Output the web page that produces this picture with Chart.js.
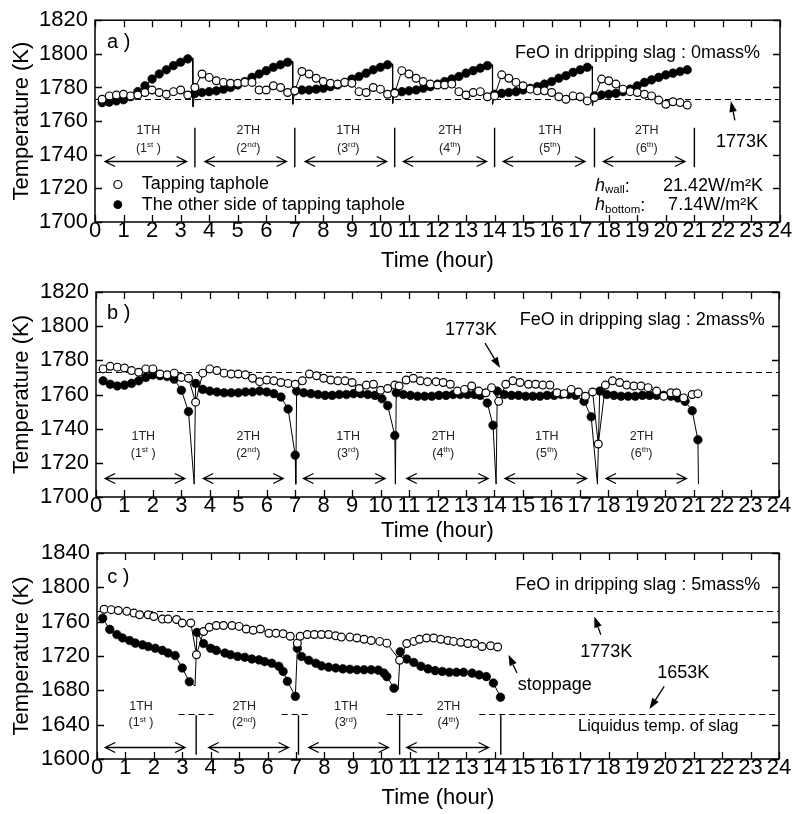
<!DOCTYPE html>
<html><head><meta charset="utf-8"><title>Temperature vs time</title>
<script src="https://cdn.jsdelivr.net/npm/chart.js@4.4.1/dist/chart.umd.min.js"></script>
<style>
html,body{margin:0;padding:0;background:#fff;}
#wrap{position:relative;width:793px;height:814px;overflow:hidden;background:#fff;}
canvas{position:absolute;left:0;}
</style></head><body>
<div id="wrap">
<canvas id="chartA" width="793" height="290" style="top:0px;width:793px;height:290px"></canvas>
<canvas id="chartB" width="793" height="280" style="top:265px;width:793px;height:280px"></canvas>
<canvas id="chartC" width="793" height="284" style="top:530px;width:793px;height:284px"></canvas>
</div>
<script>
// ---------------- DATA ----------------
// Panel a) FeO 0 mass%
const timeA = [0.25,0.5,0.75,1,1.25,1.5,1.75,2,2.25,2.5,2.75,3,3.25,
 3.5,3.75,4,4.25,4.5,4.75,5,5.25,5.5,5.75,6,6.25,6.5,6.75,
 7,7.25,7.5,7.75,8,8.25,8.5,8.75,9,9.25,9.5,9.75,10,10.25,
 10.5,10.75,11,11.25,11.5,11.75,12,12.25,12.5,12.75,13,13.25,13.5,13.75,
 14,14.25,14.5,14.75,15,15.25,15.5,15.75,16,16.25,16.5,16.75,17,17.25,
 17.5,17.75,18,18.25,18.5,18.75,19,19.25,19.5,19.75,20,20.25,20.5,20.75];
const tapA = [1773,1775,1775.5,1776,1775,1775.5,1777,1778.5,1777,1776,1777.5,1778.5,1775.5,
 1780,1788,1786,1784,1783,1782.5,1782.5,1783,1783,1778.5,1778.5,1781,1780,1777,
 1778,1789.5,1788,1785.5,1783.5,1782.5,1782,1783,1782.5,1777.5,1777,1780,1779,1776,
 1776.5,1790,1788,1785.5,1783.5,1782,1781.5,1781.5,1782,1777.5,1775.5,1777,1777.5,1774.5,
 1775,1787.5,1785.5,1783,1781,1779,1778,1778,1777,1774.5,1773,1775,1774.5,1772,
 1774,1785,1784,1782,1779,1777.5,1777,1776,1775,1772.5,1770,1771.5,1771,1769.5];
const otherA = [1771,1771.3,1772,1772.7,1774.5,1777.5,1781,1785,1788,1790.5,1793,1795,1797,
 1776.5,1777,1777.5,1778,1779,1780,1781.5,1783.5,1786,1788,1790,1792,1793.5,1795,
 1778,1778.5,1778.5,1779,1779.5,1780.5,1781.5,1783,1785,1786.5,1788.5,1790.5,1792,1793.5,
 1777,1777.5,1778,1778.5,1779.5,1780.5,1782,1783.5,1785,1786.5,1788.5,1790,1791.5,1793,
 1776,1776.5,1777,1777.5,1778.5,1779.5,1780.5,1782,1783.5,1785.5,1787,1789,1790.5,1792,
 1775,1775.5,1776,1776.5,1777.5,1779,1781,1783,1784.5,1786,1787.5,1788.5,1789.5,1790.5];
// curve points without marker (sharp drop at the end of each tap)
const otherALineTime = [3.42,3.43,6.92,6.93,10.42,10.43,13.92,13.93,17.42,17.43];
const otherALineTemp = [1797.5,1768.5,1795.5,1770,1794,1770.5,1793.5,1770,1792.5,1769];

// Panel b) FeO 2 mass%
const tapBTime = [0.25,0.5,0.75,1,1.25,1.5,1.75,2,2.25,2.5,2.75,3,3.25,3.5,
 3.75,4,4.25,4.5,4.75,5,5.25,5.5,5.75,6,6.25,6.5,6.75,7,
 7.25,7.5,7.75,8,8.25,8.5,8.75,9,9.25,9.5,9.75,10,10.25,10.5,
 10.65,10.9,11.15,11.4,11.65,11.95,12.2,12.45,12.7,12.95,13.2,13.45,13.7,13.9,14.15,
 14.4,14.65,14.9,15.2,15.45,15.7,15.95,16.2,16.45,16.7,16.95,17.2,17.45,17.65,
 17.9,18.15,18.4,18.65,18.9,19.15,19.4,19.7,19.95,20.2,20.4,20.65,20.95,21.15];
const tapBTemp = [1775,1776.5,1776,1775.5,1774,1773,1775,1775,1772,1771.5,1772.5,1770,1769.5,1755.5,
 1772.5,1775,1774,1772.5,1772,1772,1771.5,1769.5,1767.5,1768.5,1768,1767,1766.5,1766,
 1768,1772,1771,1769.5,1768.5,1768,1768,1767,1763.5,1765.5,1766,1762.5,1763.5,1765.5,
 1765,1768.5,1769.5,1768,1767.5,1767.5,1767,1766,1762,1763,1765,1762,1761,1764,1756,
 1766,1768,1767,1766,1766,1765.5,1765.5,1761,1760.5,1763,1761.5,1759,1761.5,1731,
 1765.5,1768,1767,1765.5,1765,1765,1764,1762,1759,1761,1761,1758,1760,1760.5];
const otherBTime = [0.25,0.5,0.75,1,1.25,1.5,1.75,2,2.25,2.5,2.75,3,3.25,
 3.5,3.75,4,4.25,4.5,4.75,5,5.25,5.5,5.75,6,6.25,6.5,6.75,7,
 7.05,7.3,7.55,7.8,8.05,8.3,8.55,8.8,9.05,9.3,9.55,9.8,10.05,10.25,10.5,
 10.55,10.8,11.05,11.3,11.55,11.8,12.05,12.3,12.55,12.8,13.05,13.3,13.5,13.75,13.95,
 14.1,14.35,14.6,14.85,15.1,15.35,15.6,15.85,16.1,16.35,16.6,16.85,17.15,17.4,
 17.7,17.95,18.2,18.45,18.7,18.95,19.2,19.45,19.7,19.95,20.2,20.45,20.7,20.95,21.15];
const otherBTemp = [1768,1766,1765,1765.5,1766.5,1768,1770,1771.5,1771,1770.5,1769,1762.5,1750,
 1766.5,1763,1762,1761.5,1761,1761,1761,1761.5,1761.5,1762,1761.5,1760.5,1758.5,1751.5,1724.5,
 1762,1761,1760.5,1760,1759.5,1759.5,1760,1760,1760.5,1760.5,1760,1759.5,1757.5,1753.5,1736,
 1761,1760,1759.5,1759,1759,1759,1759.5,1759.5,1760,1760,1760,1760,1759.5,1755,1742,
 1762,1760,1759.5,1759.5,1759,1759,1759,1759.5,1759.5,1760,1760,1759.5,1756,1747,
 1762,1760,1759.5,1759,1759,1759,1759.5,1759.5,1759.5,1759.5,1759,1758,1756,1750.5,1733.5];
const otherBLineTime = [3.45,7.02,10.52,14.06,17.62,21.17];
const otherBLineTemp = [1707.5,1707.5,1707.5,1707.5,1707.5,1707.5];

// Panel c) FeO 5 mass%
const tapCTime = [0.25,0.5,0.75,1.05,1.3,1.5,1.8,2,2.3,2.5,2.8,3,3.3,3.5,
 3.75,3.95,4.2,4.45,4.75,5,5.25,5.5,5.75,6.05,6.3,6.55,6.8,7.05,
 7.15,7.4,7.65,7.9,8.15,8.4,8.6,8.9,9.15,9.4,9.65,9.95,10.2,10.65,
 10.9,11.15,11.35,11.6,11.85,12.1,12.35,12.55,12.8,13.05,13.3,13.55,13.85,14.1];
const tapCTemp = [1774.5,1774,1773,1772,1770,1768,1768,1766,1763,1763,1762.5,1758.5,1758.5,1721.5,
 1748.5,1753.5,1755.5,1755.5,1755.5,1754.5,1751.5,1750,1751.5,1746.5,1746.5,1746,1743,1735,
 1743,1745,1745,1745,1745,1743.5,1742,1742,1741,1739.5,1738,1737,1735,1715,
 1734.5,1737,1739.5,1741,1741,1739.5,1738,1737,1736,1734.5,1734.5,1731,1732,1730.5];
const otherCTime = [0.2,0.45,0.7,0.9,1.15,1.35,1.6,1.8,2.05,2.3,2.5,2.75,3,3.25,
 3.52,3.75,4,4.2,4.5,4.7,4.95,5.2,5.45,5.7,5.9,6.15,6.4,6.55,6.7,6.98,
 7.05,7.2,7.45,7.7,7.9,8.15,8.4,8.65,8.9,9.15,9.4,9.65,9.9,10.1,10.2,10.45,
 10.67,10.9,11.15,11.4,11.65,11.9,12.15,12.4,12.65,12.9,13.2,13.45,13.7,13.95,14.2];
const otherCTemp = [1764,1751,1745,1741,1738,1735,1733,1731,1729,1726.5,1723.5,1720.5,1706,1690,
 1747.5,1734.5,1729,1726.5,1723.5,1721.5,1719.5,1718.5,1716.5,1715.5,1713.5,1711.5,1708,1702,1690.5,1673,
 1729,1719.5,1715,1711.5,1708.5,1707,1706,1705,1704.5,1704,1704,1704,1703.5,1700,1696,1682.5,
 1725,1716.5,1712.5,1708,1705,1703,1702,1701,1701,1701,1700,1698,1696,1688.5,1672];
const otherCLineTime = [3.45,10.6];
const otherCLineTemp = [1685,1681];

// tap period labels
const thNamesA = ['1TH','2TH','1TH','2TH','1TH','2TH'];
const ordNum = ['1','2','3','4','5','6'];
const ordSup = ['st','nd','rd','th','th','th'];
const ordEnd = [' )',')',')',')',')',')'];
const liquidusTemp = 1653;
const targetTemp = 1773;

// ---------------- DRAWING ----------------
const FONT = '"Liberation Sans", Arial, Helvetica, sans-serif';
function pts(ts, vs){ return ts.map((t,i)=>({x:t, y:vs[i]})); }
function merged(ts, vs, lt, lv){ return pts(ts,vs).concat(pts(lt,lv)).sort((a,b)=>a.x-b.x); }

function drawRich(ctx, parts, x, y, align){
  let w = 0;
  parts.forEach(p=>{ ctx.font = p.f; w += ctx.measureText(p.t).width; });
  let cx = align==='center' ? x - w/2 : (align==='right' ? x - w : x);
  ctx.textAlign = 'left'; ctx.textBaseline = 'middle';
  parts.forEach(p=>{ ctx.font = p.f; ctx.fillText(p.t, cx, y + (p.dy||0)); cx += ctx.measureText(p.t).width; });
  return cx;
}
function pointer(ctx, x1, y1, x2, y2){
  const ang = Math.atan2(y2-y1, x2-x1), L = 11, W = 3.8;
  const bx = x2 - L*Math.cos(ang), by = y2 - L*Math.sin(ang);
  ctx.beginPath(); ctx.moveTo(x1,y1); ctx.lineTo(bx,by); ctx.stroke();
  ctx.beginPath(); ctx.moveTo(x2,y2);
  ctx.lineTo(bx - W*Math.sin(ang), by + W*Math.cos(ang));
  ctx.lineTo(bx + W*Math.sin(ang), by - W*Math.cos(ang));
  ctx.closePath(); ctx.fill();
}

function annotPlugin(p){
  return {
    id: 'annot'+p.key,
    beforeDatasetsDraw(chart){
      const {ctx, chartArea:a, scales:{x, y}} = chart;
      ctx.save();
      ctx.strokeStyle = '#000'; ctx.lineWidth = 1.2; ctx.setLineDash([6,4]);
      p.dashed.forEach(d=>{
        const py = Math.round(y.getPixelForValue(d.v)) + 0.5;
        const x1 = d.from==null ? a.left : x.getPixelForValue(d.from);
        const x2 = d.to==null ? a.right : x.getPixelForValue(d.to);
        ctx.beginPath(); ctx.moveTo(x1, py); ctx.lineTo(x2, py); ctx.stroke();
      });
      ctx.restore();
    },
    afterDatasetsDraw(chart){
      const {ctx, chartArea:a, scales:{x, y}} = chart;
      const X = t=>x.getPixelForValue(t), Y = v=>y.getPixelForValue(v);
      ctx.save();
      ctx.fillStyle = '#000'; ctx.strokeStyle = '#000';
      // frame + inward ticks on all four sides
      ctx.lineWidth = 1.5;
      ctx.strokeRect(a.left, a.top, a.right-a.left, a.bottom-a.top);
      ctx.lineWidth = 1.3;
      ctx.beginPath();
      x.ticks.forEach(tk=>{ const px = Math.round(X(tk.value))+0.5;
        ctx.moveTo(px, a.bottom); ctx.lineTo(px, a.bottom-7);
        ctx.moveTo(px, a.top); ctx.lineTo(px, a.top+7); });
      y.ticks.forEach(tk=>{ const py = Math.round(Y(tk.value))+0.5;
        ctx.moveTo(a.left, py); ctx.lineTo(a.left+7, py);
        ctx.moveTo(a.right, py); ctx.lineTo(a.right-7, py); });
      ctx.stroke();
      // separators between taps
      if (p.separators){
        ctx.lineWidth = 1.4; ctx.beginPath();
        p.separators.ts.forEach(t=>{ ctx.moveTo(X(t), Y(p.separators.v1)); ctx.lineTo(X(t), Y(p.separators.v2)); });
        ctx.stroke();
      }
      // double-headed arrows
      ctx.lineWidth = 1.3; ctx.beginPath();
      p.arrows.ranges.forEach(r=>{
        const x1 = X(r[0]), x2 = X(r[1]), py = Math.round(Y(p.arrows.v))+0.5;
        ctx.moveTo(x1, py); ctx.lineTo(x2, py);
        ctx.moveTo(x1+10, py-5); ctx.lineTo(x1, py); ctx.lineTo(x1+10, py+5);
        ctx.moveTo(x2-10, py-5); ctx.lineTo(x2, py); ctx.lineTo(x2-10, py+5);
      });
      ctx.stroke();
      // period labels
      ctx.fillStyle = '#222';
      p.periods.ts.forEach((t,i)=>{
        drawRich(ctx, [{t:p.periods.names[i], f:'12.5px '+FONT}], X(t), Y(p.periods.vTop), 'center');
        drawRich(ctx, [{t:'('+ordNum[i], f:'12.5px '+FONT}, {t:ordSup[i], f:'8px '+FONT, dy:-3.5}, {t:ordEnd[i], f:'12.5px '+FONT}], X(t), Y(p.periods.vBot), 'center');
      });
      ctx.fillStyle = '#000';
      // free texts
      p.texts.forEach(tx=>{
        drawRich(ctx, [{t:tx.s, f:(tx.size||18)+'px '+FONT}], X(tx.t), Y(tx.v), tx.align||'center');
      });
      // pointer arrows
      ctx.lineWidth = 1.3;
      p.pointers.forEach(pt=>pointer(ctx, X(pt.t1), Y(pt.v1), X(pt.t2), Y(pt.v2)));
      // legend
      if (p.legend){
        const L = p.legend;
        L.rows.forEach(r=>{
          const cx = X(L.tMark), cy = Y(r.v);
          ctx.beginPath(); ctx.arc(cx, cy, r.filled ? 4.4 : 4.0, 0, Math.PI*2);
          if (r.filled){ ctx.fillStyle='#000'; ctx.fill(); }
          else { ctx.fillStyle='#fff'; ctx.fill(); ctx.lineWidth=1.2; ctx.stroke(); }
          ctx.fillStyle = '#000';
          drawRich(ctx, [{t:r.label, f:'18px '+FONT}], X(L.tText), cy, 'left');
        });
      }
      // heat transfer coefficients
      if (p.hcoef){
        p.hcoef.rows.forEach(r=>{
          const cy = Y(r.v);
          drawRich(ctx, [{t:'h', f:'italic 18px '+FONT}, {t:r.sub, f:'11.5px '+FONT, dy:4}, {t:':', f:'18px '+FONT, dy:1}], X(p.hcoef.t), cy, 'left');
          drawRich(ctx, [{t:r.val, f:'18px '+FONT}], X(r.tv), cy, 'left');
        });
      }
      ctx.restore();
    }
  };
}

function buildChart(id, p){
  const datasets = [
    {data: p.tapLine, borderColor:'#000', borderWidth:1, pointRadius:0, fill:false, tension:0, order:4},
    {data: p.otherLine, borderColor:'#000', borderWidth:1, pointRadius:0, fill:false, tension:0, order:3},
    {label:'The other side of tapping taphole', data: p.other, showLine:false, pointRadius:4.3,
      pointBackgroundColor:'#000', pointBorderColor:'#000', pointBorderWidth:0.6, order:2},
    {label:'Tapping taphole', data: p.tap, showLine:false, pointRadius:3.9,
      pointBackgroundColor:'#fff', pointBorderColor:'#000', pointBorderWidth:1.2, order:1}
  ];
  return new Chart(document.getElementById(id), {
    type:'line',
    data:{datasets},
    options:{
      responsive:false, animation:false, events:[], devicePixelRatio:1,
      layout:{padding:{left:0, right:p.padRight, top:p.padTop, bottom:0}},
      plugins:{legend:{display:false}, tooltip:{enabled:false}},
      scales:{
        x:{type:'linear', min:0, max:24, position:'bottom',
          grid:{display:false, drawTicks:false}, border:{display:false},
          ticks:{stepSize:1, autoSkip:false, maxRotation:0, padding:p.xTickPad, color:'#000', font:{family:FONT, size:22},
            callback:(v)=>String(v)},
          title:{display:true, text:'Time (hour)', color:'#000', font:{family:FONT, size:22}, padding:{top:0, bottom:p.xTitlePad}},
          afterFit:(s)=>{ s.height = p.xHeight; }},
        y:{type:'linear', min:p.ymin, max:p.ymax, position:'left',
          grid:{display:false, drawTicks:false}, border:{display:false},
          ticks:{stepSize:p.ystep, padding:7, color:'#000', font:{family:FONT, size:22},
            callback:(v)=>String(v)},
          title:{display:true, text:'Temperature (K)', color:'#000', font:{family:FONT, size:22}, padding:{top:9, bottom:0}},
          afterFit:(s)=>{ s.width = p.yWidth; }}
      }
    },
    plugins:[annotPlugin(p)]
  });
}

buildChart('chartA', {
  key:'A', tap:pts(timeA,tapA), other:pts(timeA,otherA), tapLine:pts(timeA,tapA),
  otherLine:merged(timeA,otherA,otherALineTime,otherALineTemp),
  ymin:1700, ymax:1820, ystep:20, padTop:16, padRight:13, yWidth:95, xHeight:68, xTickPad:-4, xTitlePad:16,
  dashed:[{v:targetTemp}],
  separators:{ts:[3.5,7,10.5,14,17.5,21], v1:1756, v2:1732.5},
  arrows:{v:1736.5, ranges:[[0.35,3.21],[3.85,6.71],[7.36,10.22],[10.8,13.72],[14.3,17.17],[17.81,20.67]]},
  periods:{ts:[1.87,5.37,8.87,12.44,15.94,19.33], vTop:1754.6, vBot:1743.9, names:thNamesA},
  texts:[{s:'a )', t:0.42, v:1807, align:'left', size:20},
         {s:'FeO in dripping slag : 0mass%', t:23.3, v:1800.2, align:'right'},
         {s:'1773K', t:22.67, v:1747.8}],
  pointers:[{t1:22.42, v1:1760.5, t2:22.28, v2:1772}],
  legend:{tMark:0.8, tText:1.64, rows:[{v:1722.3, label:'Tapping taphole', filled:false},{v:1710.3, label:'The other side of tapping taphole', filled:true}]},
  hcoef:{t:17.52, rows:[{sub:'wall', v:1721.5, val:'21.42W/m²K', tv:19.9},{sub:'bottom', v:1709.9, val:'7.14W/m²K', tv:20.08}]}
});

buildChart('chartB', {
  key:'B', tap:pts(tapBTime,tapBTemp), other:pts(otherBTime,otherBTemp), tapLine:pts(tapBTime,tapBTemp),
  otherLine:merged(otherBTime,otherBTemp,otherBLineTime,otherBLineTemp),
  ymin:1700, ymax:1820, ystep:20, padTop:27, padRight:14, yWidth:96, xHeight:48, xTickPad:-4, xTitlePad:0.8,
  dashed:[{v:targetTemp}],
  separators:null,
  arrows:{v:1711.3, ranges:[[0.32,3.12],[3.77,6.58],[7.29,10.16],[10.92,13.78],[14.37,17.24],[17.92,20.75]]},
  periods:{ts:[1.66,5.35,8.86,12.2,15.84,19.17], vTop:1735.3, vBot:1725.6, names:thNamesA},
  texts:[{s:'b )', t:0.39, v:1807.4, align:'left', size:20},
         {s:'FeO in dripping slag : 2mass%', t:23.5, v:1803.6, align:'right'},
         {s:'1773K', t:13.18, v:1797.8}],
  pointers:[{t1:13.67, v1:1790.1, t2:14.2, v2:1775.5}]
});

buildChart('chartC', {
  key:'C', tap:pts(tapCTime,tapCTemp), other:pts(otherCTime,otherCTemp), tapLine:pts(tapCTime,tapCTemp),
  otherLine:merged(otherCTime,otherCTemp,otherCLineTime,otherCLineTemp),
  ymin:1600, ymax:1840, ystep:40, padTop:23, padRight:14, yWidth:97, xHeight:55, xTickPad:-4, xTitlePad:3,
  dashed:[{v:targetTemp},{v:liquidusTemp, from:2.87, to:4.1},{v:liquidusTemp, from:6.5, to:7.56},{v:liquidusTemp, from:10.2, to:11.45},{v:liquidusTemp, from:13.45, to:24}],
  separators:{ts:[3.49,7.09,10.65,14.21], v1:1651, v2:1605},
  arrows:{v:1613.4, ranges:[[0.29,3.1],[3.93,6.74],[7.45,10.26],[10.9,13.78]]},
  periods:{ts:[1.55,5.18,8.76,12.37], vTop:1661, vBot:1642, names:thNamesA},
  texts:[{s:'c )', t:0.36, v:1811.8, align:'left', size:20},
         {s:'FeO in dripping slag : 5mass%', t:23.34, v:1803, align:'right'},
         {s:'1773K', t:17.92, v:1725},
         {s:'1653K', t:20.63, v:1700.5},
         {s:'stoppage', t:16.11, v:1685.7},
         {s:'Liquidus temp. of slag', t:19.75, v:1637.7, size:16.5}],
  pointers:[{t1:17.73, v1:1744.8, t2:17.5, v2:1766},
            {t1:19.96, v1:1684.5, t2:19.44, v2:1658.2},
            {t1:14.78, v1:1700.1, t2:14.48, v2:1721.5}]
});
</script>
</body></html>
